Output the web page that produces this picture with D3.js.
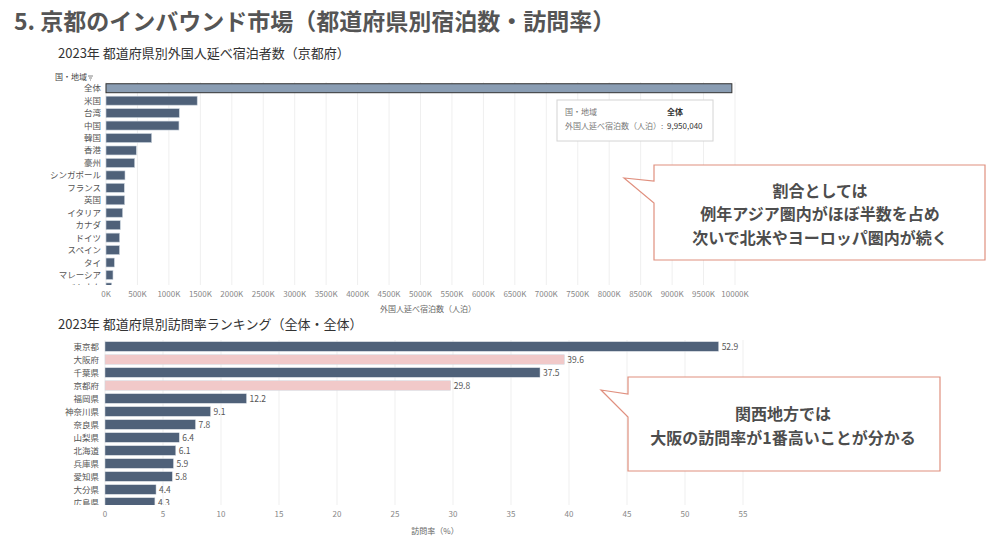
<!DOCTYPE html>
<html><head><meta charset="utf-8">
<script src="https://cdn.jsdelivr.net/npm/d3@7/dist/d3.min.js"></script>
<style>
body{margin:0;background:#fff;}
svg{display:block;font-family:"Noto Sans CJK JP","Noto Sans",sans-serif;}
</style></head>
<body>
<svg id="c" width="1000" height="540"></svg>
<script>
// ---- data ----
const countries = ["全体","米国","台湾","中国","韓国","香港","豪州","シンガポール","フランス","英国","イタリア","カナダ","ドイツ","スペイン","タイ","マレーシア","ベトナム"];
const nights = [9950040,1450000,1165000,1160000,726000,482000,456000,302000,291000,296000,264000,227000,217000,215000,133000,111000,90000];
const nightTicks = [0,500000,1000000,1500000,2000000,2500000,3000000,3500000,4000000,4500000,5000000,5500000,6000000,6500000,7000000,7500000,8000000,8500000,9000000,9500000,10000000];

const prefs = ["東京都","大阪府","千葉県","京都府","福岡県","神奈川県","奈良県","山梨県","北海道","兵庫県","愛知県","大分県","広島県"];
const visitRate = [52.9,39.6,37.5,29.8,12.2,9.1,7.8,6.4,6.1,5.9,5.8,4.4,4.3];
const kansai = ["大阪府","京都府"];
const rateTicks = [0,5,10,15,20,25,30,35,40,45,50,55];

const svg = d3.select("#c");
const dark = "#4f6179", pink = "#f1c9c9", txt = "#555";

// title
svg.append("text").attr("x",14).attr("y",30).attr("font-size",23).attr("font-weight","bold")
  .attr("fill","#555").text("5. 京都のインバウンド市場（都道府県別宿泊数・訪問率）");

// ---- top chart ----
svg.append("text").attr("x",58).attr("y",58).attr("font-size",13).attr("fill","#333")
  .text("2023年 都道府県別外国人延べ宿泊者数（京都府）");
svg.append("text").attr("x",55).attr("y",80).attr("font-size",8).attr("fill","#444").text("国・地域");
const ic = svg.append("g").attr("stroke","#666").attr("stroke-width",0.8);
[[88,93,76],[89,92,78],[90,91,80]].forEach(d=>ic.append("line").attr("x1",d[0]).attr("x2",d[1]).attr("y1",d[2]).attr("y2",d[2]));

const x1 = d3.scaleLinear().domain([0,10000000]).range([106,735]);
const y1 = d3.scaleBand().domain(countries).range([82,82+countries.length*12.45]).paddingInner(0.28).paddingOuter(0.14);

const defs = svg.append("defs");
defs.append("clipPath").attr("id","clipTop").append("rect").attr("x",0).attr("y",70).attr("width",1000).attr("height",215);
defs.append("clipPath").attr("id","clipBot").append("rect").attr("x",0).attr("y",335).attr("width",1000).attr("height",170);

const gTop = svg.append("g").attr("clip-path","url(#clipTop)");
gTop.append("g").selectAll("line").data(nightTicks).join("line")
  .attr("x1",d=>x1(d)).attr("x2",d=>x1(d)).attr("y1",82).attr("y2",285)
  .attr("stroke","#efefef").attr("stroke-width",1);
gTop.append("g").selectAll("rect").data(countries).join("rect")
  .attr("x",x1(0)).attr("y",d=>y1(d)).attr("height",y1.bandwidth())
  .attr("width",(d,i)=>x1(nights[i])-x1(0))
  .attr("fill",(d,i)=>i===0?"#8a9db3":dark)
  .attr("stroke",(d,i)=>i===0?"#333":"#c9d2dc").attr("stroke-width",(d,i)=>i===0?1:0.6);
gTop.append("g").selectAll("text").data(countries).join("text")
  .attr("x",101).attr("y",d=>y1(d)+y1.bandwidth()/2+3).attr("text-anchor","end")
  .attr("font-size",8.5).attr("fill",txt).text(d=>d);

svg.append("g").selectAll("text").data(nightTicks).join("text")
  .attr("x",d=>x1(d)).attr("y",297).attr("text-anchor","middle")
  .attr("font-size",8).attr("fill","#888").text(d=>(d/1000)+"K");
svg.append("text").attr("x",428).attr("y",312).attr("text-anchor","middle")
  .attr("font-size",8).attr("fill","#666").text("外国人延べ宿泊数（人泊）");

// tooltip
const tt = svg.append("g");
tt.append("rect").attr("x",557).attr("y",100).attr("width",156).attr("height",41)
  .attr("fill","#fff").attr("stroke","#d4d4d4").attr("stroke-width",1);
tt.append("text").attr("x",565).attr("y",115).attr("font-size",8).attr("fill","#777").text("国・地域");
tt.append("text").attr("x",667).attr("y",115).attr("font-size",8).attr("font-weight","bold").attr("fill","#333").text(countries[0]);
tt.append("text").attr("x",565).attr("y",129).attr("font-size",8).attr("fill","#777").text("外国人延べ宿泊数（人泊）:");
tt.append("text").attr("x",667).attr("y",129).attr("font-size",8).attr("fill","#333").text(d3.format(",")(nights[0]));

// callout helper
function callout(L,T,R,B,tip,a1,a2,lines,cy,cx){
  const p = `M${L},${T}L${R},${T}L${R},${B}L${L},${B}L${L},${a2}L${tip[0]},${tip[1]}L${L},${a1}Z`;
  svg.append("path").attr("d",p).attr("fill","#fff").attr("stroke","#e0907f").attr("stroke-width",1.2);
  const lh = 23.5, n = lines.length;
  lines.forEach((s,i)=>svg.append("text").attr("x",cx).attr("y",cy+(i-(n-1)/2)*lh)
    .attr("text-anchor","middle").attr("font-size",16).attr("font-weight","bold")
    .attr("fill","#4d4d4d").text(s));
}
callout(654,165,985,260,[624,178],181,203,["割合としては","例年アジア圏内がほぼ半数を占め","次いで北米やヨーロッパ圏内が続く"],220,820);

// ---- bottom chart ----
svg.append("text").attr("x",58).attr("y",329).attr("font-size",13).attr("fill","#333")
  .text("2023年 都道府県別訪問率ランキング（全体・全体）");
const x2 = d3.scaleLinear().domain([0,55]).range([105,743]);
const y2 = d3.scaleBand().domain(prefs).range([340,340+prefs.length*13]).paddingInner(0.27).paddingOuter(0.135);

const gBot = svg.append("g").attr("clip-path","url(#clipBot)");
gBot.append("g").selectAll("line").data(rateTicks).join("line")
  .attr("x1",d=>x2(d)).attr("x2",d=>x2(d)).attr("y1",340).attr("y2",506)
  .attr("stroke","#efefef");
gBot.append("g").selectAll("rect").data(prefs).join("rect")
  .attr("x",x2(0)).attr("y",d=>y2(d)).attr("height",y2.bandwidth())
  .attr("width",(d,i)=>x2(visitRate[i])-x2(0))
  .attr("fill",d=>kansai.includes(d)?pink:dark)
  .attr("stroke","#d0d7df").attr("stroke-width",0.5);
gBot.append("g").selectAll("text.l").data(prefs).join("text")
  .attr("x",99).attr("y",d=>y2(d)+y2.bandwidth()/2+3).attr("text-anchor","end")
  .attr("font-size",8.5).attr("fill",txt).text(d=>d);
gBot.append("g").selectAll("text.v").data(prefs).join("text")
  .attr("x",(d,i)=>x2(visitRate[i])+3).attr("y",d=>y2(d)+y2.bandwidth()/2+3)
  .attr("font-size",8.5).attr("fill",txt).text((d,i)=>visitRate[i].toFixed(1));

svg.append("g").selectAll("text").data(rateTicks).join("text")
  .attr("x",d=>x2(d)).attr("y",517).attr("text-anchor","middle")
  .attr("font-size",8).attr("fill","#888").text(d=>d);
svg.append("text").attr("x",435).attr("y",534).attr("text-anchor","middle")
  .attr("font-size",8).attr("fill","#666").text("訪問率（%）");

callout(628,377,940,471,[601,390],394,417,["関西地方では","大阪の訪問率が1番高いことが分かる"],432,783);
</script>
</body></html>
